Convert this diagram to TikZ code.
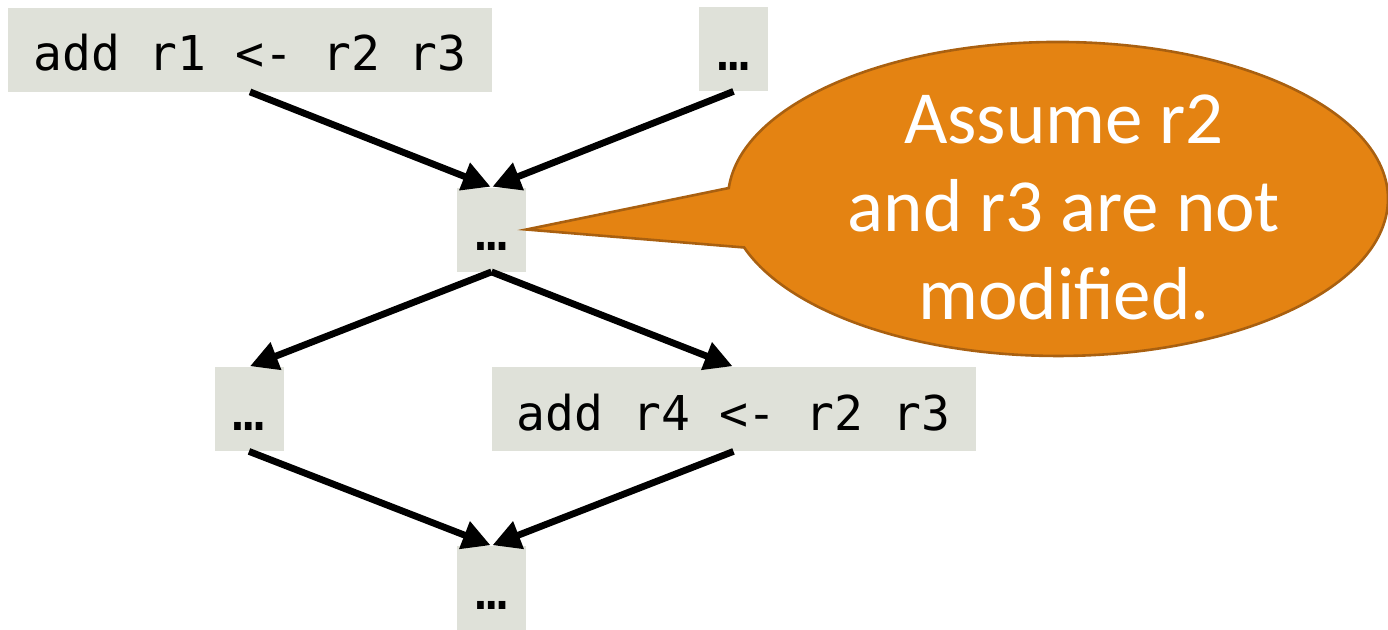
\documentclass[tikz,border=0pt]{standalone}
\usepackage{fontspec}
\setmainfont{Carlito}
\setmonofont{DejaVu Sans Mono}
\usetikzlibrary{arrows.meta}
\definecolor{boxgray}{HTML}{DFE1D9}
\definecolor{callfill}{HTML}{E48312}
\definecolor{calldraw}{HTML}{A96010}
\tikzset{
  codebox/.style={fill=boxgray, inner sep=0pt, minimum height=42pt,
    text height=31.5pt, text depth=10.5pt, align=center,
    font=\ttfamily\fontsize{24}{28}\selectfont},
  widebox/.style={codebox, minimum width=242pt},
  dotbox/.style={codebox, minimum width=34.5pt, font=\ttfamily\fontsize{27}{28}\selectfont},
  flow/.style={line width=3.4pt, -{Triangle[length=14pt,width=14pt]}, shorten >=0.5pt},
  callout/.style={fill=callfill, draw=calldraw, line width=1.3pt, line join=miter},
  calltext/.style={text=white, align=center,
    font=\fontsize{37.5}{44}\selectfont}
}
\begin{document}
\begin{tikzpicture}[x=0.5pt,y=-0.5pt]
\useasboundingbox (0,0) rectangle (1388,629);
\node[widebox] (A) at (250,49.5) {add r1 <- r2 r3};
\node[dotbox]  (B) at (733.5,49) {…};
\node[dotbox]  (C) at (491.5,229.5) {…};
\node[dotbox]  (D) at (249,409) {…};
\node[widebox] (E) at (733.5,409) {add r4 <- r2 r3};
\node[dotbox]  (F) at (491.5,588) {…};
\draw[flow] (A.south) -- (C.north);
\draw[flow] (B.south) -- (C.north);
\draw[flow] (C.south) -- (D.north);
\draw[flow] (C.south) -- (E.north);
\draw[flow] (D.south) -- (F.north);
\draw[flow] (E.south) -- (F.north);
\draw[callout] (C.east) -- (728.8,188) arc[start angle=184, end angle=522, x radius=330, y radius=157] -- cycle;
\node[calltext] (note) at (1064,207) {Assume r2\\and r3 are not\\modified.};
\end{tikzpicture}
\end{document}
